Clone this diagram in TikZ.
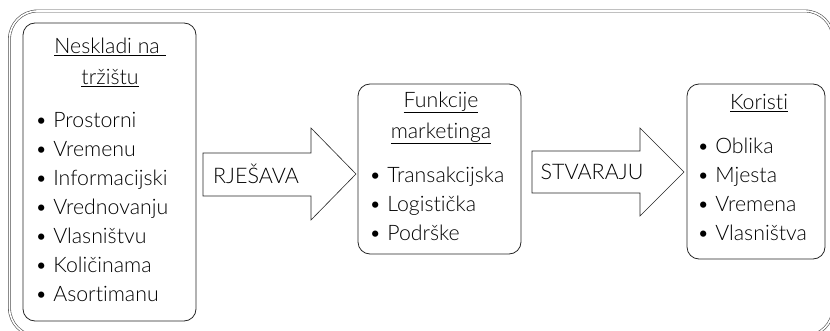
\documentclass[tikz,border=0pt]{standalone}
\usepackage{fontspec}
\setmainfont{Lato}[UprightFont={* Light},Ligatures={NoCommon}]
\begin{document}
\begin{tikzpicture}[x=1pt,y=-1pt,
  txt/.style={text=black, font=\fontsize{21.3}{29}\selectfont, inner sep=0pt},
  hdr/.style={txt, align=center, font=\fontsize{21.3}{31}\selectfont},
  lst/.style={txt, align=left, anchor=west},
  albl/.style={txt, font=\fontsize{21.5}{26}\selectfont},
  rbox/.style={draw=black!85, line width=0.8pt, rounded corners=12pt, inner sep=0pt},
  barrow/.style={draw=black!85, line width=0.6pt, fill=white},
  frame/.style={draw=black!70, double=white, double distance=1.6pt, line width=0.6pt, rounded corners=28pt}]
\useasboundingbox (0,0) rectangle (830,331);
\begin{scope}
\clip (0,0) rectangle (830,331);
\draw[frame] (9.5,11) rectangle (833,336);
\end{scope}
% boxes
\node[rbox, minimum width=173pt, minimum height=298pt] (b1) at (109.5,172) {};
\node[rbox, minimum width=163pt, minimum height=170pt] (b2) at (439.5,169) {};
\node[rbox, minimum width=138pt, minimum height=175pt] (b3) at (756,171.5) {};
% headers
\node[hdr] (h1) at (110,62.5) {\underline{Neskladi na\ }\\\underline{tržištu}};
\node[hdr] (h2) at (441,118) {\underline{Funkcije}\\\underline{marketinga}};
\node[hdr] (h3) at (759,103) {\underline{Koristi}};
% lists
\node[lst] (l1) at (35,206.5) {• Prostorni\\• Vremenu\\• Informacijski\\• Vrednovanju\\• Vlasništvu\\• Količinama\\• Asortimanu};
\node[lst] (l2) at (369,204) {• Transakcijska\\• Logistička\\• Podrške};
\node[lst] (l3) at (697,189) {• Oblika\\• Mjesta\\• Vremena\\• Vlasništva};
% arrows
\draw[barrow] (203,153) -- (311,153) -- (311,128) -- (356,174) -- (311,220) -- (311,196) -- (203,196) -- cycle;
\node[albl] (t1) at (256,174) {RJEŠAVA};
\draw[barrow] (532,151) -- (640,151) -- (640,128) -- (684,172) -- (640,216) -- (640,193) -- (532,193) -- cycle;
\node[albl] (t2) at (592,172) {STVARAJU};
\end{tikzpicture}
\end{document}
